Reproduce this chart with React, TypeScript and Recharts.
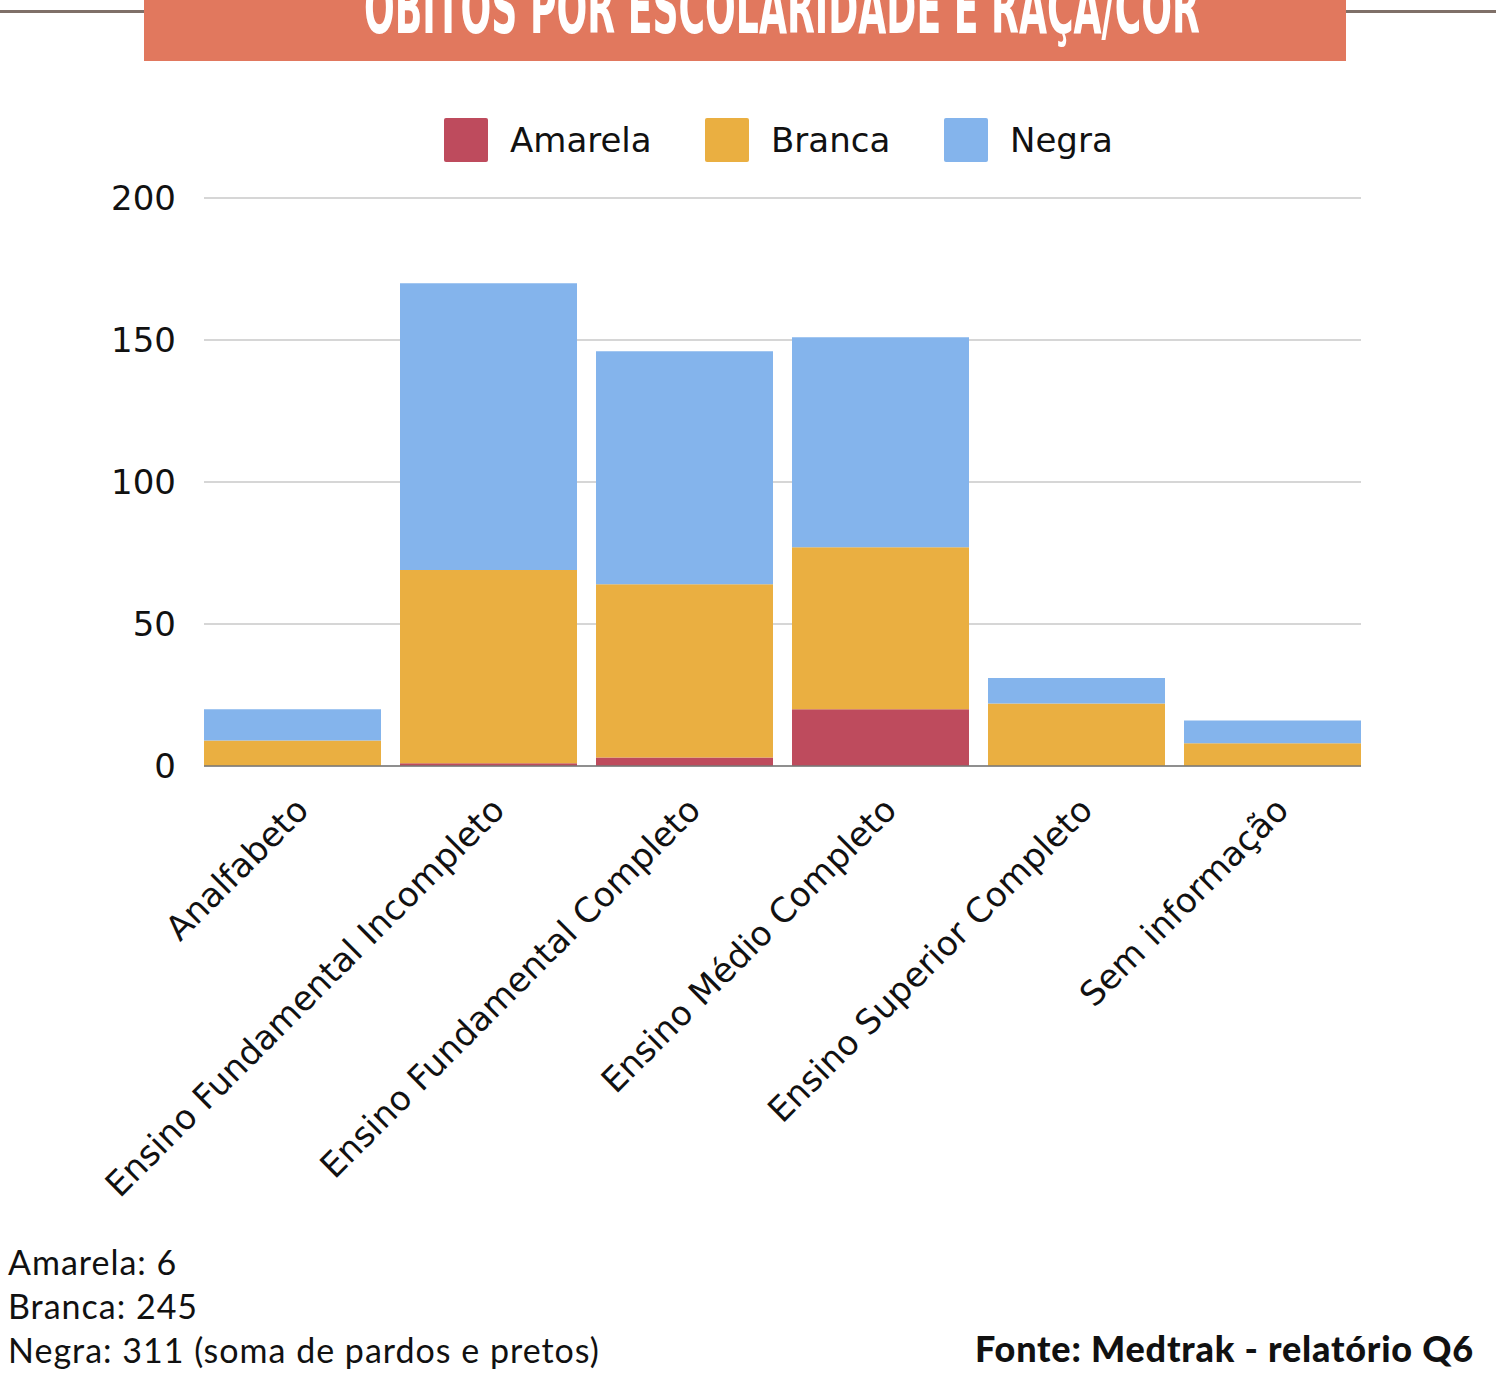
import React from "react";
import { BarChart, Bar, XAxis, YAxis, CartesianGrid } from "recharts";

const categories = [
  "Analfabeto",
  "Ensino Fundamental Incompleto",
  "Ensino Fundamental Completo",
  "Ensino Médio Completo",
  "Ensino Superior Completo",
  "Sem informação",
];
const amarela = [0, 1, 3, 20, 0, 0];
const branca = [9, 68, 61, 57, 22, 8];
const negra = [11, 101, 82, 74, 9, 8];
const yTicks = [0, 50, 100, 150, 200];

const series = [
  { key: "amarela", name: "Amarela", color: "#BE4B5D" },
  { key: "branca", name: "Branca", color: "#EAAF41" },
  { key: "negra", name: "Negra", color: "#84B4EC" },
];
const legendX = [444, 705, 944];

const data = categories.map((c, i) => ({
  name: c,
  amarela: amarela[i],
  branca: branca[i],
  negra: negra[i],
}));

const FONT = "'DejaVu Sans', Roboto, sans-serif";

const XTick = ({ x, y, payload }: any) => {
  const px = x + 18;
  const py = y + 46;
  return (
    <text
      x={px}
      y={py}
      transform={`rotate(-45, ${px}, ${py})`}
      textAnchor="end"
      fontSize={34}
      fontFamily={FONT}
      fill="#111"
    >
      {payload.value}
    </text>
  );
};

export default function App() {
  return (
    <div
      style={{
        position: "absolute",
        left: 0,
        top: 0,
        width: 1496,
        height: 1375,
        background: "#fff",
        overflow: "hidden",
      }}
    >
      {/* title banner */}
      <svg width={1496} height={70} style={{ position: "absolute", left: 0, top: 0 }}>
        <rect x={0} y={10} width={1496} height={3} fill="#7F7068" />
        <rect x={144} y={0} width={1202} height={61} fill="#E1785E" />
        <text
          x={364}
          y={33}
          textLength={836}
          lengthAdjust="spacingAndGlyphs"
          fontSize={72}
          fontWeight={700}
          fontFamily="'DejaVu Sans Condensed', 'Liberation Sans Narrow', sans-serif"
          fill="#fff"
        >
          ÓBITOS POR ESCOLARIDADE E RAÇA/COR
        </text>
      </svg>

      {/* legend */}
      {series.map((s, i) => (
        <div
          key={s.key}
          style={{
            position: "absolute",
            top: 118,
            left: legendX[i],
            height: 44,
            display: "flex",
            alignItems: "center",
            fontFamily: FONT,
          }}
        >
          <span
            style={{
              width: 44,
              height: 44,
              borderRadius: 2,
              background: s.color,
              display: "inline-block",
              marginRight: 22,
            }}
          />
          <span style={{ fontSize: 34, color: "#111" }}>{s.name}</span>
        </div>
      ))}

      <div style={{ position: "absolute", left: 0, top: 0 }}>
        <BarChart
          width={1496}
          height={1375}
          data={data}
          margin={{ top: 198, right: 135, left: 104, bottom: 109 }}
          barCategoryGap={9.5}
        >
          <CartesianGrid vertical={false} stroke="#C8C8C8" strokeWidth={1.5} />
          <XAxis
            dataKey="name"
            interval={0}
            height={500}
            padding={{ left: -9.5, right: -9.5 }}
            tickLine={false}
            tickSize={0}
            tickMargin={0}
            axisLine={{ stroke: "#777", strokeWidth: 1.5 }}
            tick={<XTick />}
          />
          <YAxis
            width={100}
            domain={[0, 200]}
            ticks={yTicks}
            axisLine={false}
            tickLine={false}
            tickSize={0}
            tickMargin={28}
            tick={{ fontSize: 34, fill: "#111", fontFamily: FONT }}
          />
          {series.map((s) => (
            <Bar
              key={s.key}
              dataKey={s.key}
              name={s.name}
              stackId="a"
              fill={s.color}
              isAnimationActive={false}
            />
          ))}
        </BarChart>
      </div>

      {/* footer notes */}
      <div
        style={{
          position: "absolute",
          left: 8,
          top: 1240,
          fontFamily: "Lato, sans-serif",
          fontSize: 34,
          letterSpacing: 1,
          lineHeight: "44px",
          color: "#111",
        }}
      >
        <div>Amarela: 6</div>
        <div>Branca: 245</div>
        <div>Negra: 311 (soma de pardos e pretos)</div>
      </div>
      <div
        style={{
          position: "absolute",
          right: 22,
          top: 1326,
          fontFamily: "Lato, sans-serif",
          fontWeight: 900,
          fontSize: 36,
          letterSpacing: 0.8,
          lineHeight: "44px",
          color: "#111",
        }}
      >
        Fonte: Medtrak - relatório Q6
      </div>
    </div>
  );
}
